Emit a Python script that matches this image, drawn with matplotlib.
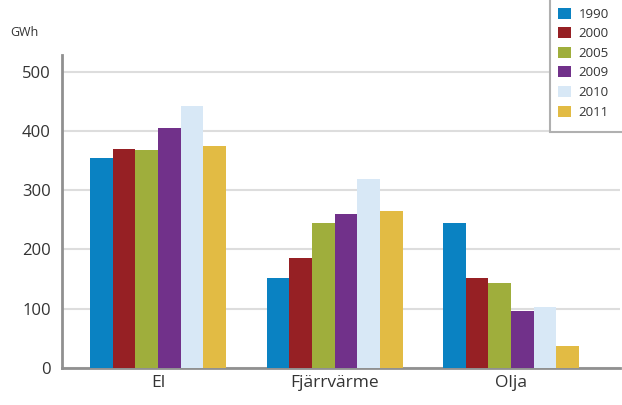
import numpy as np
import matplotlib.pyplot as plt
from matplotlib.patches import Rectangle

categories = ['El', 'Fjärrvärme', 'Olja']
years = ['1990', '2000', '2005', '2009', '2010', '2011']
values = {
    '1990': [354, 152, 245],
    '2000': [369, 185, 152],
    '2005': [367, 245, 143],
    '2009': [405, 260, 96],
    '2010': [442, 319, 103],
    '2011': [374, 265, 37],
}
colors = ['#0a82c2', '#962024', '#9fae3c', '#71318a', '#d8e8f6', '#e2bb44']
yticks = [0, 100, 200, 300, 400, 500]

plt.rcParams['font.family'] = ['Open Sans', 'DejaVu Sans']

fig = plt.figure(figsize=(6.22, 4.05), dpi=100)
ax = fig.add_axes([62/622, 37/405, 558/622, 313/405])

x = np.arange(len(categories))
w = 0.1285
for i, y in enumerate(years):
    ax.bar(x + (i - 2.5) * w, values[y], width=w, color=colors[i], label=y, zorder=3)

ax.set_xlim(-0.544, 2.617)
ax.set_ylim(0, 528)
ax.set_yticks(yticks)
ax.set_yticklabels([str(t) for t in yticks], fontsize=12, color='#333333')
ax.set_xticks(x)
ax.set_xticklabels(categories, fontsize=12.5, color='#333333')
ax.tick_params(length=0, pad=8)
ax.tick_params(axis='x', pad=5)
ax.grid(axis='y', color='#dddddd', linewidth=1.5, zorder=0)
for s in ['top', 'right']:
    ax.spines[s].set_visible(False)
for s in ['left', 'bottom']:
    ax.spines[s].set_color('#909090')
    ax.spines[s].set_linewidth(2)

fig.text(10/622, 1 - 33/405, 'GWh', fontsize=9, color='#333333', va='center')

# legend box: only left and bottom edges fall inside the picture
box = Rectangle((550/622, 1 - 132/405), 0.2, 0.5, transform=fig.transFigure,
                facecolor='white', edgecolor='#b0b0b0', linewidth=1.5, zorder=5)
fig.add_artist(box)
leg = fig.legend(loc='upper left', bbox_to_anchor=(551/622, 1 - 1/405), fontsize=9.5,
                 handlelength=1.0, handleheight=0.9, handletextpad=0.6,
                 labelspacing=0.5, borderpad=0.0, frameon=False)
leg.set_zorder(6)
for t in leg.get_texts():
    t.set_color('#333333')

fig.savefig('out.png', dpi=100)
